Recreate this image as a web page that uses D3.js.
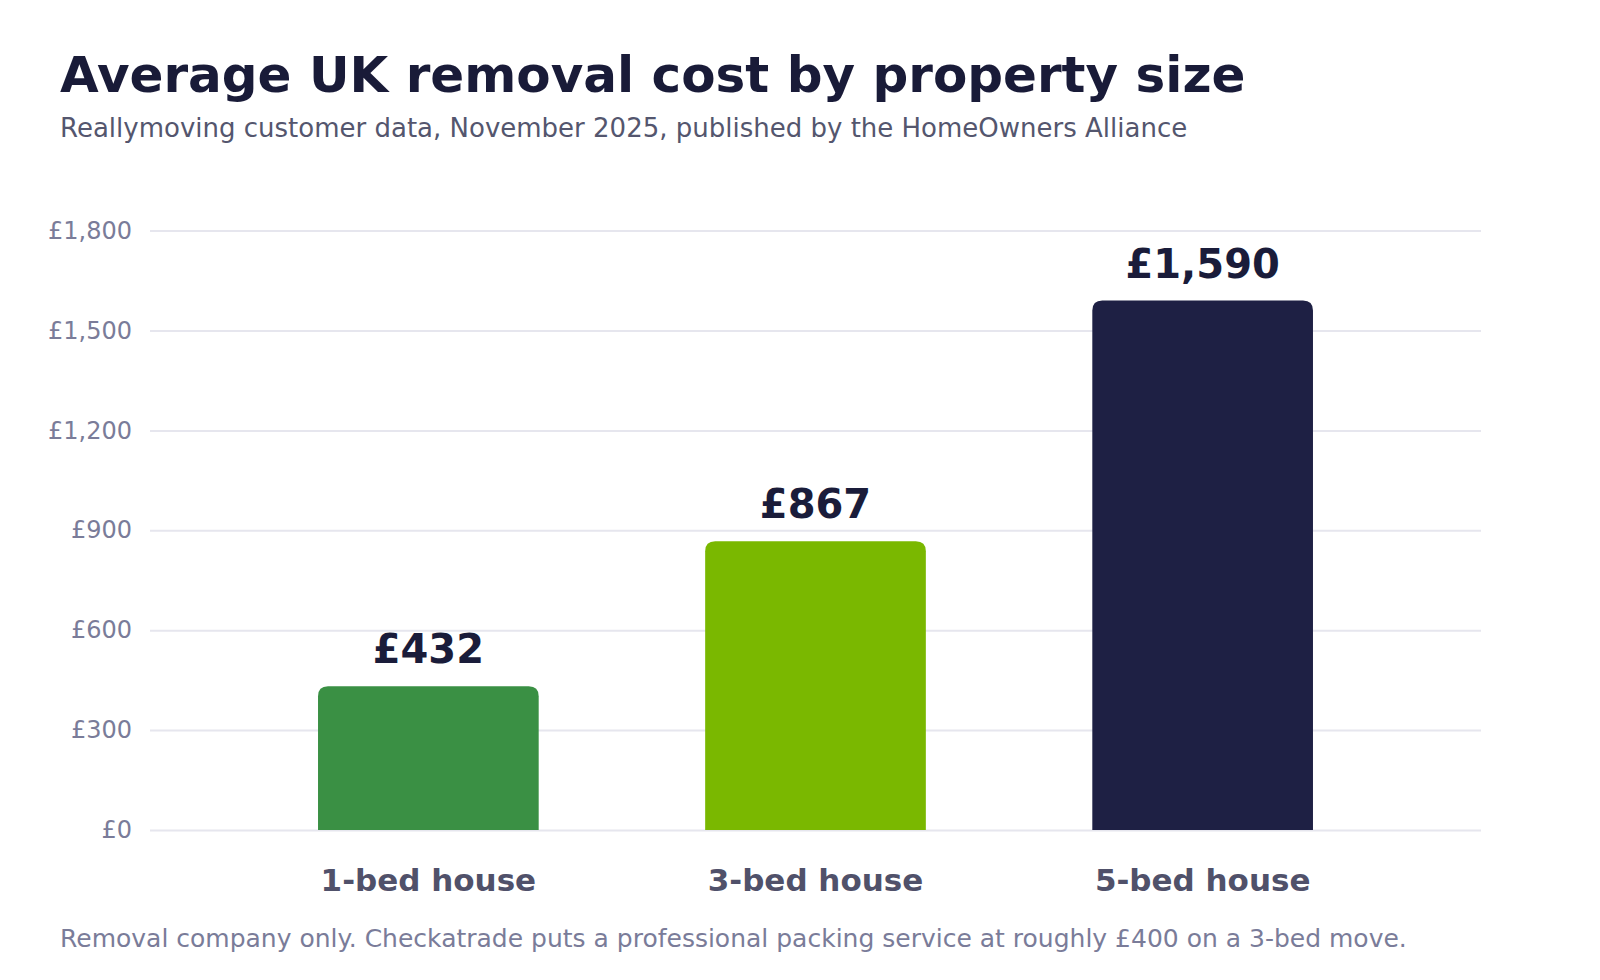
<!DOCTYPE html>
<html>
<head>
<meta charset="utf-8">
<script src="https://cdn.jsdelivr.net/npm/d3@7"></script>
<style>
  body { margin: 0; background: #ffffff; }
  text { font-family: "DejaVu Sans", sans-serif; }
</style>
</head>
<body>
<div class="chart"></div>
<script>
// Data
const categories = ["1-bed house", "3-bed house", "5-bed house"];
const costs = [432, 867, 1590];
const barColors = ["#3a9044", "#7ab800", "#1e2044"];
const yTicks = [0, 300, 600, 900, 1200, 1500, 1800];

const width = 1600;
const height = 980;
const plot = { left: 150, right: 1481, top: 230.6, bottom: 830 };

const svg = d3
  .select(".chart")
  .append("svg")
  .attr("width", width)
  .attr("height", height);

// Title block
svg
  .append("text")
  .attr("x", 60)
  .attr("y", 92)
  .text("Average UK removal cost by property size")
  .attr("font-size", 50)
  .attr("font-weight", "bold")
  .attr("fill", "#191b38");

svg
  .append("text")
  .attr("x", 60)
  .attr("y", 137)
  .text("Reallymoving customer data, November 2025, published by the HomeOwners Alliance")
  .attr("font-size", 26)
  .attr("fill", "#54566e");

// Scales
const xScale = d3
  .scaleBand()
  .domain(categories)
  .range([plot.left, plot.right])
  .paddingInner(0.43)
  .paddingOuter(0.434);

const yScale = d3
  .scaleLinear()
  .domain([0, 1800])
  .range([plot.bottom, plot.top]);

// Y axis with gridlines
const yAxis = d3
  .axisLeft(yScale)
  .tickValues(yTicks)
  .tickSize(0)
  .tickPadding(0)
  .tickFormat((d) => "£" + d3.format(",")(d));

const yAxisG = svg
  .append("g")
  .attr("class", "axis y-axis")
  .attr("transform", `translate(${132}, 0)`)
  .call(yAxis);
yAxisG.select(".domain").remove();
yAxisG
  .selectAll(".tick text")
  .attr("font-size", 24)
  .attr("font-family", "DejaVu Sans, sans-serif")
  .attr("fill", "#7a7c99");

yAxisG
  .selectAll(".tick")
  .append("line")
  .attr("x1", plot.left - 132)
  .attr("x2", plot.right - 132)
  .attr("stroke", "#e6e6ee")
  .attr("stroke-width", 2);

// Bars: rounded top corners, square bottom
const r = 10;
function barPath(d, i) {
  const x0 = xScale(categories[i]);
  const x1 = x0 + xScale.bandwidth();
  const y0 = yScale(d);
  const yb = yScale(0);
  return `M${x0},${yb}V${y0 + r}Q${x0},${y0} ${x0 + r},${y0}H${x1 - r}Q${x1},${y0} ${x1},${y0 + r}V${yb}Z`;
}

const bars = svg.append("g").selectAll("g").data(costs).enter().append("g");

bars
  .append("path")
  .attr("d", barPath)
  .attr("fill", (d, i) => barColors[i]);

// Value labels
bars
  .append("text")
  .attr("x", (d, i) => xScale(categories[i]) + xScale.bandwidth() / 2)
  .attr("y", (d) => yScale(d) - 23)
  .attr("text-anchor", "middle")
  .text((d) => "£" + d3.format(",")(d))
  .attr("font-size", 40)
  .attr("font-weight", "bold")
  .attr("fill", "#1a1c3a");

// X axis (category labels)
const xAxis = d3.axisBottom(xScale).tickSize(0).tickPadding(0);
const xAxisG = svg
  .append("g")
  .attr("class", "axis x-axis")
  .attr("transform", `translate(0, ${plot.bottom})`)
  .call(xAxis);
xAxisG.select(".domain").remove();
xAxisG
  .selectAll(".tick text")
  .attr("dy", null)
  .attr("y", 61)
  .attr("font-size", 31)
  .attr("font-weight", "bold")
  .attr("font-family", "DejaVu Sans, sans-serif")
  .attr("fill", "#50516a");

// Footnote
svg
  .append("text")
  .attr("x", 60)
  .attr("y", 947)
  .text("Removal company only. Checkatrade puts a professional packing service at roughly £400 on a 3-bed move.")
  .attr("font-size", 25)
  .attr("fill", "#7a7c99");
</script>
</body>
</html>
